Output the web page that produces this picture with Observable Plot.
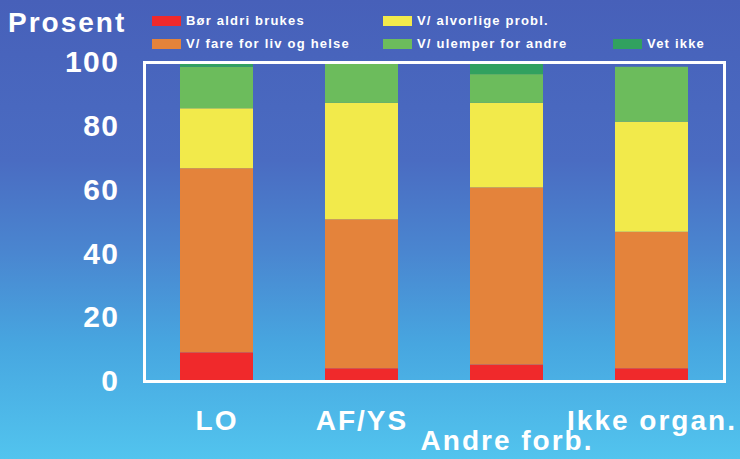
<!DOCTYPE html>
<html>
<head>
<meta charset="utf-8">
<script src="https://cdn.jsdelivr.net/npm/d3@7"></script>
<script src="https://cdn.jsdelivr.net/npm/@observablehq/plot@0.6"></script>
<style>
  html, body { margin: 0; padding: 0; }
  #wrap {
    position: relative; width: 740px; height: 459px; overflow: hidden;
    background: linear-gradient(to bottom, #4760b9 0%, #4a6cc2 35%, #4a86d0 55%, #47a6e0 75%, #52c4ee 100%);
    font-family: "Liberation Sans", Arial, sans-serif; font-weight: bold; color: white;
  }
  #chart { position: absolute; left: 0; top: 0; }
  #ylabel { position: absolute; left: 8px; top: 9px; font-size: 28px; line-height: 28px; letter-spacing: 2px; }
  .leg { position: absolute; display: flex; align-items: center; font-size: 13px; line-height: 13px; letter-spacing: 1.2px; white-space: nowrap; }
  .leg .sw { width: 29px; height: 10px; margin-right: 5px; }
  g[aria-label="x-axis tick label"] text { letter-spacing: 2px; }
  g[aria-label="y-axis tick label"] text { letter-spacing: 1.5px; }
</style>
</head>
<body>
<div id="wrap">
  <div id="chart"></div>
  <div id="ylabel">Prosent</div>
  <div id="legend"></div>
</div>
<script>
// ---- data ----
const categories = ["LO", "AF/YS", "Andre forb.", "Ikke organ."];
const series = ["Bør aldri brukes", "V/ fare for liv og helse", "V/ alvorlige probl.", "V/ ulemper for andre", "Vet ikke"];
const colors = ["#f0292b", "#e4833b", "#f2ea4b", "#6cbc5c", "#31a15f"];
const borAldri   = [9.0, 4.0, 5.2, 4.0];
const fareLiv    = [57.7, 46.7, 55.5, 42.8];
const alvorlige  = [18.8, 36.5, 26.5, 34.5];
const ulemper    = [13.0, 12.6, 9.0, 17.2];
const vetIkke    = [1.5, 0.0, 3.4, 0.0];
const yTicks = [0, 20, 40, 60, 80, 100];

const valuesBySeries = [borAldri, fareLiv, alvorlige, ulemper, vetIkke];
const table = [];
categories.forEach((c, i) => {
  series.forEach((s, j) => table.push({ kat: c, serie: s, verdi: valuesBySeries[j][i] }));
});

const chart = Plot.plot({
  width: 740,
  height: 459,
  marginLeft: 144,
  marginRight: 16,
  marginTop: 62,
  marginBottom: 78,
  style: { background: "transparent", color: "white", fontFamily: "Liberation Sans, Arial, sans-serif", fontWeight: "bold", overflow: "visible" },
  x: { domain: categories, paddingInner: 0.5, paddingOuter: 0.25, axis: null },
  y: { domain: [0, 100], axis: null },
  color: { domain: series, range: colors },
  marks: [
    Plot.barY(table, Plot.stackY({ x: "kat", y: "verdi", fill: "serie", order: null })),
    Plot.frame({ stroke: "white", strokeWidth: 3 }),
    Plot.axisY({ ticks: yTicks, tickSize: 0, tickPadding: 25, fontSize: 30, fontWeight: "bold", fill: "white", label: null }),
    Plot.axisX({ ticks: categories.filter(c => c !== "Andre forb."), tickSize: 0, tickPadding: 29, fontSize: 28, fontWeight: "bold", fill: "white", label: null }),
    Plot.axisX({ ticks: ["Andre forb."], tickSize: 0, tickPadding: 49, fontSize: 28, fontWeight: "bold", fill: "white", label: null })
  ]
});
document.getElementById("chart").appendChild(chart);

// ---- legend (HTML) ----
const legendPos = [[152, 14], [152, 37], [383, 14], [383, 37], [613, 37]];
const legend = document.getElementById("legend");
series.forEach((s, j) => {
  const d = document.createElement("div");
  d.className = "leg";
  d.style.left = legendPos[j][0] + "px";
  d.style.top = legendPos[j][1] + "px";
  const sw = document.createElement("span");
  sw.className = "sw";
  sw.style.background = colors[j];
  const t = document.createElement("span");
  t.textContent = s;
  d.appendChild(sw); d.appendChild(t);
  legend.appendChild(d);
});
</script>
</body>
</html>
